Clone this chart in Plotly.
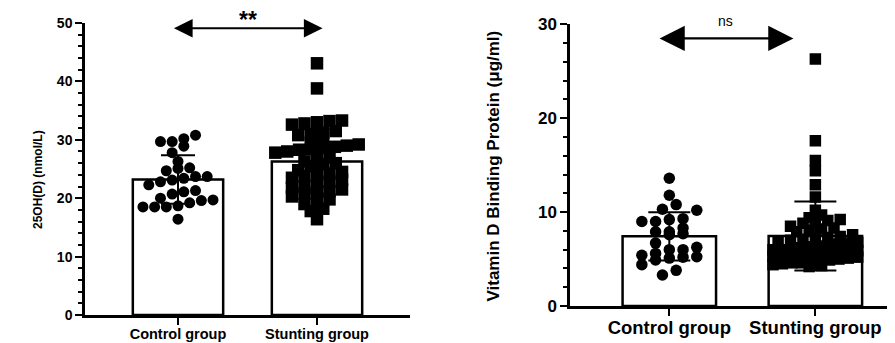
import numpy as np
import plotly.graph_objects as go

# ---------------- data ----------------
categories = ["Control group", "Stunting group"]

ohd_control = [29.7, 29.7, 28.9, 30.2, 30.8, 27.8, 26.3, 24.7, 25.1, 25.2, 23.4, 23.1,
               23.7, 22.8, 23.7, 22.3, 20.7, 21.3, 21.1, 19.2, 20.0, 19.7, 18.5, 19.6,
               18.5, 18.7, 18.5, 16.4]
ohd_stunting = [43.1, 38.8,
                33.3, 33.0, 32.8, 33.2, 32.6,
                31.5, 31.0, 30.8, 31.2, 30.5,
                29.5, 29.0, 28.6, 28.3, 28.0, 28.8, 27.8, 28.4, 29.2,
                27.0, 26.5, 26.0, 25.8, 26.3, 25.5,
                24.8, 24.2, 23.8, 23.5, 24.5, 23.2, 24.0,
                22.8, 22.3, 21.8, 21.5, 21.0, 22.0, 21.2, 20.8,
                20.3, 19.8, 19.5, 19.0,
                18.2, 17.8,
                16.4]

dbp_control = [13.6, 11.8, 10.2, 10.3, 10.8, 9.0, 9.0, 9.3, 9.2, 8.3, 7.6, 7.9, 7.7, 7.9,
               6.7, 5.4, 5.25, 6.0, 5.6, 6.25, 5.2, 6.0, 4.9, 4.4, 5.1, 3.3, 3.8]
dbp_stunting = [26.3, 17.6, 15.5, 14.4, 12.9, 11.6, 10.2, 9.7,
                9.4, 9.2, 9.0, 8.8, 9.1,
                8.5, 8.3, 8.1, 7.9, 8.2,
                7.6, 7.4, 7.2, 7.0, 7.3, 7.1,
                6.9, 6.7, 6.5, 6.3, 6.8, 6.6, 6.4,
                6.2, 6.0, 5.9, 5.8, 6.1, 5.9, 6.0, 5.7,
                5.6, 5.5, 5.4, 5.3, 5.5, 5.6, 5.4, 5.2, 5.3, 5.5, 5.1,
                5.0, 4.9, 4.8, 4.7, 4.6, 4.5, 4.4, 4.3, 4.2, 4.6]

left_ticks = [0, 10, 20, 30, 40, 50]
right_ticks = [0, 10, 20, 30]

W, H = 895, 343
OFF = 8  # page body margin of the written html
FONT = "Liberation Sans, Arial, sans-serif"


def px(p):
    return (p - OFF) / W


def py(p):
    return (H - (p - OFF)) / H


def swarm(vals, center, bin_units, step, maxw):
    """GraphPad-like column scatter: group values in rows, spread rows sideways."""
    vals = np.asarray(vals, dtype=float)
    keys = np.round(vals / bin_units).astype(int)
    xs = np.zeros_like(vals)
    for k in np.unique(keys):
        idx = np.where(keys == k)[0]
        idx = idx[np.argsort(vals[idx])]
        n = len(idx)
        s = step if n <= 1 else min(step, maxw / (n - 1))
        for i in range(n):
            xs[idx[i]] = center + (i - (n - 1) / 2) * s
    return xs, vals


fig = go.Figure()

# ---------------- left panel ----------------
lm = [np.mean(ohd_control), np.mean(ohd_stunting)]
ls = [np.std(ohd_control, ddof=1), np.std(ohd_stunting, ddof=1)]
fig.add_trace(go.Bar(x=[0, 1], y=lm, width=0.65, marker=dict(color="white", line=dict(color="black", width=2.5)),
                     error_y=dict(type="data", array=ls, symmetric=True, color="black", thickness=2, width=17),
                     xaxis="x", yaxis="y", showlegend=False))
cx, cy = swarm(ohd_control, 0, 1.9, 0.084, 0.6)
fig.add_trace(go.Scatter(x=cx, y=cy, mode="markers", marker=dict(symbol="circle", size=11, color="black"),
                         xaxis="x", yaxis="y", showlegend=False))
sx, sy = swarm(ohd_stunting, 1, 1.5, 0.09, 0.6)
fig.add_trace(go.Scatter(x=sx, y=sy, mode="markers", marker=dict(symbol="square", size=12.5, color="black"),
                         xaxis="x", yaxis="y", showlegend=False))

# ---------------- right panel ----------------
rm = [np.mean(dbp_control), np.mean(dbp_stunting)]
rs = [np.std(dbp_control, ddof=1), np.std(dbp_stunting, ddof=1)]
fig.add_trace(go.Bar(x=[0, 1], y=rm, width=0.64, marker=dict(color="white", line=dict(color="black", width=2.5)),
                     error_y=dict(type="data", array=rs, symmetric=True, color="black", thickness=2, width=21),
                     xaxis="x2", yaxis="y2", showlegend=False))
cx2, cy2 = swarm(dbp_control, 0, 1.2, 0.094, 0.62)
fig.add_trace(go.Scatter(x=cx2, y=cy2, mode="markers", marker=dict(symbol="circle", size=11.5, color="black"),
                         xaxis="x2", yaxis="y2", showlegend=False))
sx2, sy2 = swarm(dbp_stunting, 1, 0.8, 0.085, 0.58)
fig.add_trace(go.Scatter(x=sx2, y=sy2, mode="markers", marker=dict(symbol="square", size=11.5, color="black"),
                         xaxis="x2", yaxis="y2", showlegend=False))

axis_common = dict(showline=True, linecolor="black", linewidth=2.5, ticks="outside", tickcolor="black",
                   tickwidth=2, ticklen=7, showgrid=False, zeroline=False, fixedrange=True,
                   automargin=False)

fig.update_layout(
    template="none",
    width=W, height=H, margin=dict(l=0, r=0, t=0, b=0, pad=0),
    paper_bgcolor="white", plot_bgcolor="white",
    font=dict(family=FONT, color="black"),
    xaxis=dict(domain=[px(85), px(410)], range=[-0.669, 1.669], tickvals=[0, 1], ticktext=categories,
               anchor="y", tickfont=dict(size=14.5, weight="bold"), ticklabelstandoff=-3, **axis_common),
    yaxis=dict(domain=[py(315), py(23)], range=[0, 50], tickvals=left_ticks, anchor="x",
               tickfont=dict(size=14, weight="bold"),
               minor=dict(dtick=2, ticks="outside", ticklen=4, tickwidth=2, tickcolor="black"),
               **axis_common),
    xaxis2=dict(domain=[px(570), px(903)], range=[-0.68, 1.6], tickvals=[0, 1], ticktext=categories,
                anchor="y2", tickfont=dict(size=18.5, weight="bold"), ticklabelstandoff=-4, **axis_common),
    yaxis2=dict(domain=[py(306), py(24.3)], range=[0, 30], tickvals=right_ticks, anchor="x2",
                tickfont=dict(size=17, weight="bold"),
                minor=dict(dtick=2, ticks="outside", ticklen=4, tickwidth=2, tickcolor="black"),
                **axis_common),
)

annotations = [
    # axis titles
    dict(text="<b>25OH(D) (nmol/L)</b>", xref="paper", yref="paper", x=px(38), y=py(180),
         xanchor="center", yanchor="middle",
         textangle=-90, showarrow=False, font=dict(size=12, family=FONT)),
    dict(text="<b>Vitamin D Binding Protein (μg/ml)</b>", xref="paper", yref="paper", x=px(493),
         y=py(166.5), xanchor="center", yanchor="middle",
         textangle=-90, showarrow=False, font=dict(size=17, family=FONT)),
    # significance labels
    dict(text="<b>**</b>", xref="x", yref="paper", x=0.5, y=py(20), xanchor="center", yanchor="middle",
         showarrow=False, font=dict(size=23, family=FONT)),
    dict(text="ns", xref="x2", yref="paper", x=0.385, y=py(21), xanchor="center", yanchor="middle",
         showarrow=False, font=dict(size=14, family=FONT)),
    # double-headed arrows
    dict(text="", xref="x", yref="y", x=1.04, y=49.1, axref="x", ayref="y", ax=-0.04, ay=49.1,
         showarrow=True, arrowside="end+start", arrowhead=2, startarrowhead=2, arrowsize=1.7,
         startarrowsize=1.7, arrowwidth=2.2, arrowcolor="black"),
    dict(text="", xref="x2", yref="y2", x=0.85, y=28.5, axref="x2", ayref="y2", ax=-0.077, ay=28.5,
         showarrow=True, arrowside="end+start", arrowhead=2, startarrowhead=2, arrowsize=2.1,
         startarrowsize=2.1, arrowwidth=2.4, arrowcolor="black"),
]
fig.update_layout(annotations=annotations)

fig.write_html("out.html")
